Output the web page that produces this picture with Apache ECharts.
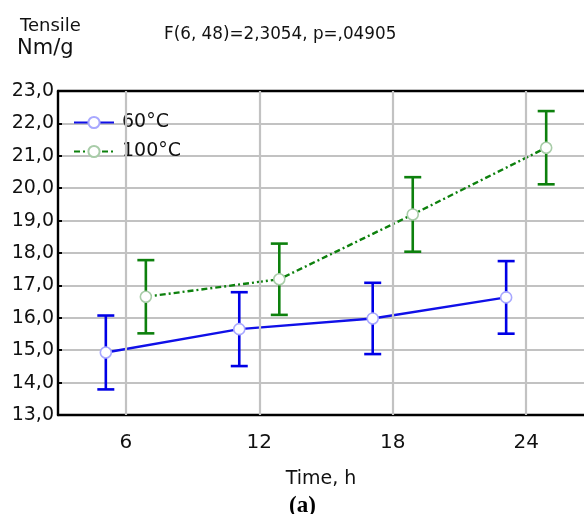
<!DOCTYPE html>
<html>
<head>
<meta charset="utf-8">
<script src="https://cdn.jsdelivr.net/npm/echarts@6/dist/echarts.min.js"></script>
<style>
html,body{margin:0;padding:0;background:#fff;}
#chart{width:584px;height:514px;}
</style>
</head>
<body>
<div id="chart"></div>
<script>
// ---- data ----
const times = [6, 12, 18, 24];
const mean60 = [14.93, 15.65, 15.98, 16.63];
const err60 = [1.14, 1.14, 1.10, 1.12];
const mean100 = [16.65, 17.19, 19.19, 21.25];
const err100 = [1.13, 1.10, 1.15, 1.13];
const xTickValues = [6, 12, 18, 24];
const seriesNames = ['60°C', '100°C'];
const yLabelsMin = 13, yLabelsMax = 23;

// horizontal dodge of the two groups around each time (in hours)
const DODGE60 = -0.9, DODGE100 = 0.9;

const pts60 = times.map((t, i) => [t + DODGE60, mean60[i]]);
const pts100 = times.map((t, i) => [t + DODGE100, mean100[i]]);
const eb60 = times.map((t, i) => [t + DODGE60, mean60[i] - err60[i], mean60[i] + err60[i]]);
const eb100 = times.map((t, i) => [t + DODGE100, mean100[i] - err100[i], mean100[i] + err100[i]]);

const FONT = 'DejaVu Sans';
const BLUE = '#1010e8';
const GREEN = '#0d800d';

function errRender(color) {
  return function (params, api) {
    const x = api.value(0);
    const lo = api.coord([x, api.value(1)]);
    const hi = api.coord([x, api.value(2)]);
    const hw = 8.5;
    const st = { stroke: color, lineWidth: 2.6 };
    return {
      type: 'group',
      children: [
        { type: 'line', shape: { x1: lo[0], y1: lo[1], x2: hi[0], y2: hi[1] }, style: st },
        { type: 'line', shape: { x1: lo[0] - hw, y1: lo[1], x2: lo[0] + hw, y2: lo[1] }, style: st },
        { type: 'line', shape: { x1: hi[0] - hw, y1: hi[1], x2: hi[0] + hw, y2: hi[1] }, style: st }
      ]
    };
  };
}

const chart = echarts.init(document.getElementById('chart'), null, { renderer: 'canvas' });

const xCommon = {
  type: 'value',
  min: 2.95,
  max: 26.6,
  axisLine: { show: true, lineStyle: { color: '#000', width: 2.4 } },
  axisTick: { show: true, inside: true, length: 4, customValues: xTickValues, lineStyle: { color: '#000', width: 2 } },
  splitLine: { show: false }
};

chart.setOption({
  animation: false,
  backgroundColor: '#fff',
  grid: { left: 58, right: 0, top: 91, bottom: 99, containLabel: false },
  xAxis: [
    Object.assign({}, xCommon, {
      position: 'bottom',
      axisLabel: { show: true, customValues: xTickValues, color: '#111', fontFamily: FONT, fontSize: 20, margin: 18 },
      name: 'Time, h',
      nameLocation: 'middle',
      nameGap: 55,
      nameTextStyle: { color: '#111', fontFamily: FONT, fontSize: 19 }
    }),
    Object.assign({}, xCommon, {
      position: 'top',
      axisLabel: { show: false }
    })
  ],
  yAxis: {
    type: 'value',
    min: yLabelsMin,
    max: yLabelsMax,
    interval: 1,
    axisLine: { show: true, lineStyle: { color: '#000', width: 2.4 } },
    axisTick: { show: true, inside: true, length: 4, lineStyle: { color: '#000', width: 2 } },
    axisLabel: {
      color: '#111', fontFamily: FONT, fontSize: 19, margin: 4,
      formatter: v => v.toFixed(1).replace('.', ',')
    },
    splitLine: { show: true, lineStyle: { color: '#c2c2c2', width: 2.2 } }
  },
  legend: {
    data: seriesNames,
    orient: 'vertical',
    left: 68,
    top: 108,
    itemWidth: 40,
    itemHeight: 14,
    itemGap: 10,
    textStyle: { color: '#111', fontFamily: FONT, fontSize: 19, padding: [0, 0, 0, 3] }
  },
  graphic: [
    { type: 'text', left: 20, top: 17, style: { text: 'Tensile', fill: '#111', font: '18px "DejaVu Sans"' } },
    { type: 'text', left: 17, top: 38, style: { text: 'Nm/g', fill: '#111', font: '21px "DejaVu Sans"' } },
    { type: 'text', left: 164, top: 26, style: { text: 'F(6, 48)=2,3054, p=,04905', fill: '#111', font: '16.8px "DejaVu Sans"' } },
    { type: 'text', left: 289, top: 495, style: { text: '(a)', fill: '#000', font: 'bold 23px "Liberation Serif"' } }
  ],
  series: [
    {
      name: 'grid-x',
      type: 'line',
      data: [],
      z: 1,
      silent: true,
      markLine: {
        silent: true,
        symbol: 'none',
        label: { show: false },
        lineStyle: { color: '#c2c2c2', width: 2.2, type: 'solid' },
        data: xTickValues.map(v => ({ xAxis: v }))
      }
    },
    {
      name: seriesNames[0],
      type: 'line',
      data: pts60,
      z: 3,
      symbol: 'circle',
      symbolSize: 11,
      lineStyle: { color: BLUE, width: 2.4, type: 'solid' },
      itemStyle: { color: '#ffffff', borderColor: '#a8a8ff', borderWidth: 1.6 },
      color: BLUE
    },
    {
      name: seriesNames[1],
      type: 'line',
      data: pts100,
      z: 3,
      symbol: 'circle',
      symbolSize: 11,
      lineStyle: { color: GREEN, width: 2.4, type: [6, 3, 2, 3] },
      itemStyle: { color: '#ffffff', borderColor: '#a8cca8', borderWidth: 1.6 },
      color: GREEN
    },
    {
      name: 'err60',
      type: 'custom',
      z: 2,
      data: eb60,
      renderItem: errRender('#0000e6'),
      encode: { x: 0, y: [1, 2] }
    },
    {
      name: 'err100',
      type: 'custom',
      z: 2,
      data: eb100,
      renderItem: errRender(GREEN),
      encode: { x: 0, y: [1, 2] }
    }
  ]
});
</script>
</body>
</html>
